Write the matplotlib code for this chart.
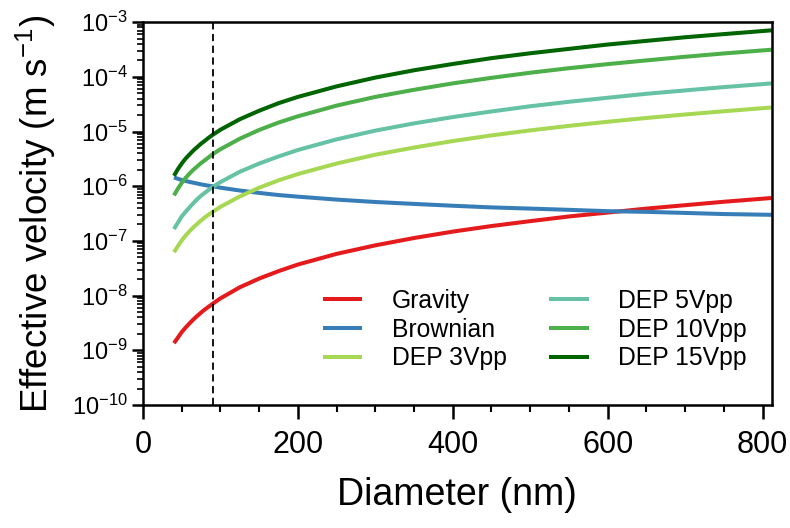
import numpy as np
import matplotlib
matplotlib.use("Agg")
import matplotlib.pyplot as plt
from matplotlib.ticker import LogLocator, MultipleLocator, NullFormatter

plt.rcParams['font.family'] = ['Liberation Sans', 'DejaVu Sans']
plt.rcParams['mathtext.fontset'] = 'custom'
plt.rcParams['mathtext.rm'] = 'Liberation Sans'
plt.rcParams['mathtext.it'] = 'Liberation Sans'
plt.rcParams['mathtext.default'] = 'regular'

diameter = [40, 45, 50, 55, 60, 65, 70, 75, 80, 85, 90, 100, 125, 150, 175, 200,
            250, 300, 350, 400, 450, 500, 550, 600, 650, 700, 750, 812]

# velocities (m/s)
gravity = [1.35e-9, 1.7e-9, 2.15e-9, 2.6e-9, 3.1e-9, 3.65e-9, 4.25e-9, 4.9e-9,
           5.6e-9, 6.3e-9, 7.1e-9, 8.9e-9, 1.42e-8, 2.05e-8, 2.8e-8, 3.7e-8,
           5.8e-8, 8.3e-8, 1.13e-7, 1.48e-7, 1.87e-7, 2.3e-7, 2.8e-7, 3.3e-7,
           3.9e-7, 4.5e-7, 5.2e-7, 6.1e-7]
brownian = [1.45e-6, 1.37e-6, 1.3e-6, 1.25e-6, 1.2e-6, 1.16e-6, 1.12e-6, 1.08e-6,
            1.05e-6, 1.02e-6, 1.0e-6, 9.4e-7, 8.35e-7, 7.55e-7, 6.9e-7, 6.45e-7,
            5.7e-7, 5.15e-7, 4.75e-7, 4.4e-7, 4.1e-7, 3.9e-7, 3.7e-7, 3.5e-7,
            3.4e-7, 3.25e-7, 3.1e-7, 3.0e-7]
dep3 = [6.2e-8, 8.0e-8, 1.02e-7, 1.25e-7, 1.5e-7, 1.77e-7, 2.05e-7, 2.37e-7,
        2.7e-7, 3.05e-7, 3.4e-7, 4.2e-7, 6.5e-7, 9.4e-7, 1.28e-6, 1.67e-6,
        2.6e-6, 3.77e-6, 5.1e-6, 6.7e-6, 8.5e-6, 1.05e-5, 1.27e-5, 1.51e-5,
        1.77e-5, 2.05e-5, 2.35e-5, 2.76e-5]
dep5 = [1.65e-7, 2.15e-7, 2.8e-7, 3.4e-7, 4.1e-7, 4.9e-7, 5.8e-7, 6.7e-7,
        7.6e-7, 8.6e-7, 9.7e-7, 1.19e-6, 1.84e-6, 2.6e-6, 3.5e-6, 4.6e-6,
        7.2e-6, 1.04e-5, 1.41e-5, 1.84e-5, 2.33e-5, 2.9e-5, 3.5e-5, 4.15e-5,
        4.9e-5, 5.65e-5, 6.5e-5, 7.6e-5]
dep10 = [6.8e-7, 9.0e-7, 1.15e-6, 1.42e-6, 1.7e-6, 2.0e-6, 2.3e-6, 2.65e-6,
         3.0e-6, 3.4e-6, 3.85e-6, 4.75e-6, 7.4e-6, 1.07e-5, 1.46e-5, 1.9e-5,
         2.98e-5, 4.3e-5, 5.8e-5, 7.6e-5, 9.6e-5, 1.19e-4, 1.44e-4, 1.71e-4,
         2.0e-4, 2.33e-4, 2.68e-4, 3.14e-4]
dep15 = [1.55e-6, 2.05e-6, 2.6e-6, 3.2e-6, 3.8e-6, 4.5e-6, 5.2e-6, 6.0e-6,
         6.8e-6, 7.75e-6, 8.7e-6, 1.08e-5, 1.68e-5, 2.4e-5, 3.3e-5, 4.3e-5,
         6.7e-5, 9.7e-5, 1.32e-4, 1.72e-4, 2.2e-4, 2.7e-4, 3.25e-4, 3.9e-4,
         4.55e-4, 5.3e-4, 6.05e-4, 7.1e-4]

labels = ["Gravity", "Brownian", "DEP 3Vpp", "DEP 5Vpp", "DEP 10Vpp", "DEP 15Vpp"]
colors = ["#e41a1c", "#377eb8", "#a6d854", "#66c2a5", "#4daf4a", "#006400"]
cutoff = 90

fig = plt.figure(figsize=(7.9, 5.28), dpi=100)
ax = fig.add_axes([0.181, 0.233, 0.796, 0.725])

for y, lab, c in zip([gravity, brownian, dep3, dep5, dep10, dep15], labels, colors):
    ax.plot(diameter, y, color=c, lw=2.9, label=lab, solid_capstyle='butt')

ax.axvline(cutoff, color='k', ls=(0, (4, 2.5)), lw=1.3)

ax.set_yscale('log')
ax.set_xlim(0, 812)
ax.set_ylim(1e-10, 1e-3)
ax.xaxis.set_major_locator(MultipleLocator(200))
ax.xaxis.set_minor_locator(MultipleLocator(50))
ax.yaxis.set_major_locator(LogLocator(base=10, numticks=20))
ax.yaxis.set_minor_locator(LogLocator(base=10, subs=np.arange(2, 10), numticks=20))
ax.yaxis.set_minor_formatter(NullFormatter())

ax.tick_params(axis='x', which='major', direction='out', length=10, width=1.8,
               labelsize=22, pad=8)
ax.tick_params(axis='x', which='minor', direction='out', length=5, width=1.5)
ax.tick_params(axis='y', which='major', direction='out', length=8, width=1.8,
               labelsize=17, pad=3)
ax.tick_params(axis='y', which='minor', direction='out', length=4.5, width=1.2)
for s in ax.spines.values():
    s.set_linewidth(1.8)

ax.set_xlabel("Diameter (nm)", fontsize=27, labelpad=12)
ax.set_ylabel("Effective velocity (m s$^{-1}$)", fontsize=26.5, labelpad=10)

ax.legend(ncol=2, frameon=False, fontsize=17.8, handlelength=1.6,
          handletextpad=1.2, columnspacing=1.7, labelspacing=0.2,
          loc='lower right', bbox_to_anchor=(0.996, 0.032))

fig.savefig("out.png", dpi=100)
